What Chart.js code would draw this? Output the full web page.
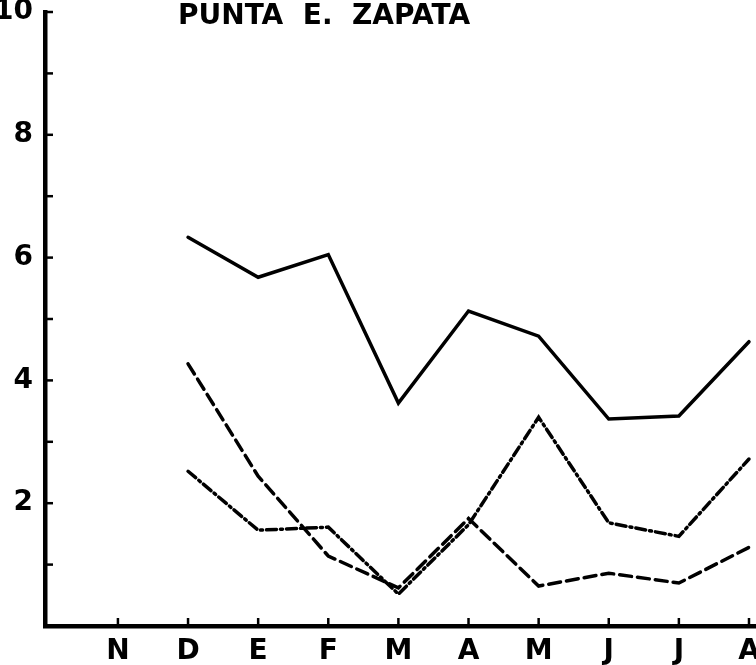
<!DOCTYPE html>
<html>
<head>
<meta charset="utf-8">
<title>Punta E. Zapata</title>
<script src="https://cdn.jsdelivr.net/npm/chart.js@4.4.1/dist/chart.umd.min.js"></script>
<style>
    html, body { margin: 0; padding: 0; background: #fff; }
    #contenedor { width: 756px; height: 665px; }
</style>
</head>
<body>
<div id="contenedor"><canvas id="grafico"></canvas></div>
<script>
var TITULO = 'PUNTA  E.  ZAPATA';
var MESES = ['N', 'D', 'E', 'F', 'M', 'A', 'M', 'J', 'J', 'A'];
var SERIE_CONTINUA = [null, 6.33, 5.68, 6.05, 3.63, 5.13, 4.72, 3.37, 3.42, 4.63];
var SERIE_GUIONES = [null, 4.27, 2.44, 1.14, 0.62, 1.75, 0.65, 0.86, 0.70, 1.28];
var SERIE_PUNTO_RAYA = [null, 2.52, 1.56, 1.61, 0.52, 1.65, 3.40, 1.68, 1.46, 2.72];
var FUENTE = '"DejaVu Sans", sans-serif';

function puntos(serie) {
    var arr = [];
    for (var i = 0; i < serie.length; i++) {
        arr.push({x: i, y: serie[i]});
    }
    return arr;
}

function dataset(serie, dash) {
    return {
        data: puntos(serie),
        borderColor: '#000',
        borderWidth: 3.5,
        borderDash: dash,
        borderCapStyle: 'round',
        pointRadius: 0,
        tension: 0,
        fill: false
    };
}

// marcas hacia dentro en ambos ejes + titulo
var marcasEjes = {
    id: 'marcasEjes',
    afterDraw: function (chart) {
        var ctx = chart.ctx;
        var ex = chart.scales.x;
        var ey = chart.scales.y;
        ctx.save();
        ctx.strokeStyle = '#000';
        ctx.lineWidth = 2.5;
        for (var v = 1; v <= 10; v++) {
            var py = ey.getPixelForValue(v);
            ctx.beginPath();
            ctx.moveTo(ex.left, py);
            ctx.lineTo(ex.left + 8, py);
            ctx.stroke();
        }
        for (var i = 0; i < MESES.length; i++) {
            var px = ex.getPixelForValue(i);
            ctx.beginPath();
            ctx.moveTo(px, ey.bottom);
            ctx.lineTo(px, ey.bottom - 8);
            ctx.stroke();
        }
        ctx.fillStyle = '#000';
        ctx.font = 'bold 28px ' + FUENTE;
        ctx.textAlign = 'left';
        ctx.textBaseline = 'middle';
        ctx.fillText(TITULO, 178, 17);
        ctx.restore();
    }
};

var GRAFICO = new Chart(document.getElementById('grafico'), {
    type: 'line',
    data: {
        datasets: [
            dataset(SERIE_CONTINUA, []),
            dataset(SERIE_GUIONES, [12, 6]),
            dataset(SERIE_PUNTO_RAYA, [10, 4, 2, 4])
        ]
    },
    options: {
        responsive: true,
        maintainAspectRatio: false,
        animation: false,
        layout: {
            padding: {top: 12, right: 0, bottom: 0, left: 0}
        },
        plugins: {
            legend: {display: false},
            tooltip: {enabled: false}
        },
        scales: {
            x: {
                type: 'linear',
                min: -1.04,
                max: 9.1,
                grid: {display: false, drawTicks: false},
                border: {display: true, color: '#000', width: 4.5},
                ticks: {
                    stepSize: 1,
                    includeBounds: false,
                    autoSkip: false,
                    maxRotation: 0,
                    padding: 9,
                    color: '#000',
                    font: {family: FUENTE, size: 28, weight: 'bold'},
                    callback: function (v) {
                        return MESES[v] || '';
                    }
                },
                afterFit: function (s) {
                    s.height = 39;
                    s.paddingLeft = 0;
                    s.paddingRight = 0;
                }
            },
            y: {
                min: 0,
                max: 10,
                grid: {display: false, drawTicks: false},
                border: {display: true, color: '#000', width: 4.5},
                ticks: {
                    stepSize: 1,
                    padding: 12,
                    color: '#000',
                    font: {family: FUENTE, size: 28, weight: 'bold'},
                    callback: function (v) {
                        return (v > 0 && v % 2 === 0) ? v : '';
                    }
                },
                afterFit: function (s) {
                    s.width = 45;
                    s.paddingTop = 0;
                    s.paddingBottom = 0;
                }
            }
        }
    },
    plugins: [marcasEjes]
});
</script>
</body>
</html>
